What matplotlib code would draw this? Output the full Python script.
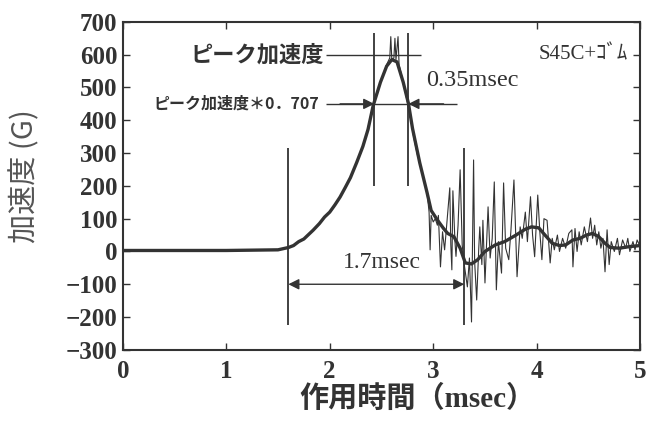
import numpy as np
import matplotlib.pyplot as plt

# thick (filtered) acceleration curve
time_smooth = [0.0, 1.0, 1.5, 1.6, 1.65, 1.7, 1.75, 1.84, 1.9, 1.95, 2.0, 2.05, 2.1, 2.15,
               2.2, 2.26, 2.32, 2.37, 2.42, 2.49, 2.55, 2.6, 2.65, 2.71, 2.76, 2.8, 2.87,
               2.94, 2.98, 3.04, 3.1, 3.14, 3.2, 3.26, 3.31, 3.37, 3.43, 3.5, 3.6, 3.69,
               3.8, 3.89, 3.95, 4.02, 4.08, 4.15, 4.22, 4.28, 4.35, 4.42, 4.48, 4.54,
               4.6, 4.66, 4.71, 4.8, 4.9, 5.0]
acc_smooth = [3, 3, 5, 12, 18, 30, 38, 65, 85, 105, 120, 142, 166, 195,
              225, 271, 320, 372, 445, 516, 565, 585, 578, 516, 452, 375, 270,
              180, 125, 96, 70, 55, 45, 10, -35, -38, -25, 0, 20, 30,
              50, 68, 75, 72, 50, 25, 18, 20, 35, 40, 50, 55,
              45, 25, 12, 10, 15, 18]

# thin (raw) acceleration trace, read vertex by vertex
time_raw = [2.30, 2.35, 2.40, 2.45, 2.50, 2.55, 2.58, 2.59, 2.60, 2.62, 2.63, 2.64, 2.66,
            2.67, 2.70, 2.74, 2.78, 2.81, 2.83, 2.85, 2.87, 2.89, 2.91, 2.93, 2.94, 2.95,
            2.96, 2.97, 2.98, 3.00, 3.02, 3.04, 3.05, 3.07, 3.09, 3.11, 3.13, 3.16, 3.17,
            3.18, 3.19, 3.21, 3.22, 3.24, 3.26, 3.28, 3.30, 3.33, 3.35, 3.37, 3.39, 3.40,
            3.42, 3.44, 3.45, 3.47, 3.48, 3.50, 3.53, 3.55, 3.57, 3.59, 3.61, 3.63, 3.66,
            3.68, 3.70, 3.73, 3.75, 3.78, 3.81, 3.84, 3.86, 3.89, 3.91, 3.94, 3.96, 3.98,
            4.01, 4.03, 4.05, 4.07, 4.10, 4.13, 4.15, 4.17, 4.20, 4.22, 4.25, 4.28, 4.31,
            4.34, 4.35, 4.37, 4.39, 4.41, 4.43, 4.46, 4.49, 4.52, 4.54, 4.56, 4.58, 4.60,
            4.62, 4.64, 4.66, 4.68, 4.70, 4.72, 4.75, 4.78, 4.80, 4.83, 4.86, 4.88, 4.90,
            4.93, 4.95, 4.97, 5.00]
acc_raw = [300, 350, 420, 480, 525, 570, 590, 655, 585, 590, 650, 585, 655,
           570, 530, 470, 410, 350, 320, 290, 275, 240, 220, 190, 179, 150,
           120, 5, 110, 90, 100, 80, 110, -47, 60, 5, 80, 194, 20,
           -56, 185, 30, -15, 80, 249, 20, -40, -108, -20, -215, 279, -30,
           -148, 10, 75, -40, 95, -96, 136, -20, 40, 212, -117, 30, -66,
           209, 10, -25, 60, 218, -77, 75, 40, 120, 30, 167, 50, -16,
           172, 60, -25, 100, 95, -35, 40, 5, 50, 0, 40, 10, 55,
           66, -47, 70, 0, 60, 20, 75, 30, 102, 40, 80, 20, 60,
           10, 40, -62, 66, -40, 30, 0, 40, -10, 35, 10, 40, 0,
           30, 5, 35, 15]

x_ticks = [0, 1, 2, 3, 4, 5]
y_ticks = [-300, -200, -100, 0, 100, 200, 300, 400, 500, 600, 700]

peak_acc = 600
half_level = 450
start_t, end_t = 1.6, 3.3
half_left, half_right = 2.43, 2.76

jp = ['Noto Sans CJK JP', 'DejaVu Sans']
serif = ['Liberation Serif', 'Noto Sans CJK JP']
ink = '#333333'

fig = plt.figure(figsize=(6.6, 4.21), dpi=100)
ax = fig.add_axes([0.186, 0.169, 0.784, 0.779])

ax.plot(time_raw, acc_raw, color=ink, lw=0.8)
ax.plot(time_smooth, acc_smooth, color=ink, lw=2.4)

# marker lines
ax.vlines([start_t, end_t], -225, 315, color=ink, lw=1.3)
ax.vlines([half_left, half_right], 200, 665, color=ink, lw=1.3)
ax.hlines(peak_acc, 1.96, 2.88, color=ink, lw=1.0)
ax.hlines(half_level, 1.96, 3.23, color=ink, lw=1.0)

arrow = dict(arrowstyle='-|>', color=ink, lw=1.0, mutation_scale=16, shrinkA=0, shrinkB=0)
ax.annotate('', xy=(half_left, half_level), xytext=(2.1, half_level), arrowprops=arrow)
ax.annotate('', xy=(half_right, half_level), xytext=(3.1, half_level), arrowprops=arrow)
ax.annotate('', xy=(start_t, -100), xytext=(end_t, -100),
            arrowprops=dict(arrowstyle='<|-|>', color=ink, lw=1.0, mutation_scale=16,
                            shrinkA=0, shrinkB=0))

ax.text(1.94, peak_acc, 'ピーク加速度', family=jp, fontsize=16, fontweight='bold',
        ha='right', va='center', color=ink)
ax.text(1.9, half_level, 'ピーク加速度＊0．707', family=jp, fontsize=11.5, ha='right',
        va='center', color=ink, fontweight='bold')
ax.text(2.93, 520, '0.35msec', family=serif, fontsize=17.5, ha='left', va='center', color=ink)
ax.text(2.5, -35, '1.7msec', family=serif, fontsize=17, ha='center', va='center', color=ink)
ax.text(4.88, 600, 'S45C+ｺﾞﾑ', family=serif, fontsize=15, ha='right', va='center', color=ink)

ax.set_xlim(0, 5)
ax.set_ylim(-300, 700)
ax.set_xticks(x_ticks)
ax.set_yticks(y_ticks)
ax.tick_params(direction='in', length=5, width=1.0, top=True, right=True, color=ink)
ax.tick_params(axis='x', pad=7)
ax.tick_params(axis='y', pad=4)
for lab in ax.get_xticklabels() + ax.get_yticklabels():
    lab.set_fontfamily('Liberation Serif')
    lab.set_fontsize(18)
    lab.set_fontweight('bold')
    lab.set_color(ink)
for sp in ax.spines.values():
    sp.set_linewidth(1.5)
    sp.set_color(ink)

fig.text(417 / 660, 1 - 399 / 421, '作用時間（msec）', family=serif, fontsize=21,
         fontweight='bold', color=ink, ha='center', va='center')
fig.text(25 / 660, 1 - 176 / 421, '加速度 (G)', family=jp, fontsize=21, color='#555555',
         rotation=90, ha='center', va='center')

fig.savefig('out.png', dpi=100)
